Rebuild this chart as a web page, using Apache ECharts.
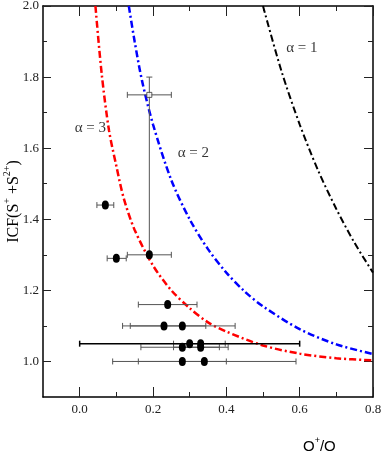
<!DOCTYPE html>
<html lang="en">
<head>
<meta charset="UTF-8">
<title>ICF(S+ + S2+)</title>
<script src="https://cdn.jsdelivr.net/npm/echarts@6/dist/echarts.min.js"></script>
<style>
  html, body { margin: 0; padding: 0; background: #fff; }
  #chart { width: 382px; height: 452px; }
</style>
</head>
<body>
<div id="chart"></div>
<script>
// curves (alpha = 3, 2, 1)
var curveA3 = [[0.043, 2.00], [0.06, 1.81], [0.08, 1.65], [0.10, 1.55], [0.12, 1.46], [0.15, 1.37],
               [0.20, 1.27], [0.25, 1.20], [0.30, 1.15], [0.35, 1.11], [0.40, 1.084], [0.50, 1.045],
               [0.60, 1.022], [0.70, 1.009], [0.80, 1.003]];
var curveA2 = [[0.134, 2.00], [0.15, 1.90], [0.17, 1.79], [0.20, 1.667], [0.25, 1.51], [0.30, 1.40],
               [0.35, 1.316], [0.40, 1.25], [0.45, 1.197], [0.50, 1.155], [0.60, 1.091], [0.70, 1.048],
               [0.80, 1.021]];
var curveA1 = [[0.50, 2.00], [0.55, 1.818], [0.60, 1.667], [0.65, 1.538], [0.70, 1.429], [0.75, 1.333],
               [0.80, 1.25]];

// data points: O+/O, ICF, and the ends of the horizontal error bar
var pointX  = [0.07, 0.10, 0.19, 0.24, 0.23, 0.28, 0.28, 0.33, 0.33, 0.28, 0.34];
var pointY  = [1.44, 1.29, 1.30, 1.16, 1.10, 1.10, 1.04, 1.05, 1.04, 1.00, 1.00];
var pointLo = [0.047, 0.075, 0.13, 0.16, 0.117, 0.138, 0.167, 0.256, 0.256, 0.16, 0.09];
var pointHi = [0.093, 0.127, 0.25, 0.32, 0.344, 0.424, 0.381, 0.397, 0.405, 0.40, 0.59];

// the point with the wide black bar
var widePoint = [0.30, 1.05, 0.00, 0.60];

// open square with both error bars: x, y, xlo, xhi, ylo, yhi
var openPoint = [0.19, 1.75, 0.13, 0.25, 1.30, 1.80];

var labelText = ['α = 3', 'α = 2', 'α = 1'];
var labelX = [0.029, 0.31, 0.606];
var labelY = [1.656, 1.585, 1.882];

var xMajor = [0.0, 0.2, 0.4, 0.6, 0.8];
var xMinor = [0.1, 0.3, 0.5, 0.7];
var yMajor = [1.0, 1.2, 1.4, 1.6, 1.8, 2.0];
var yMinor = [1.1, 1.3, 1.5, 1.7, 1.9];

var serif = '"Liberation Serif", "DejaVu Serif", serif';

var points = pointX.map(function (x, i) { return [x, pointY[i], pointLo[i], pointHi[i]]; });

function axis(dir, pos, ticks, len, withLine, withLabels) {
    var a = {
        type: 'value',
        position: pos,
        min: dir === 'x' ? -0.1 : 0.9,
        max: dir === 'x' ? 0.8 : 2.0,
        splitLine: { show: false },
        axisLine: { show: withLine, onZero: false, lineStyle: { color: '#000', width: 1.5 } },
        axisTick: { show: true, inside: true, length: len, customValues: ticks,
                    lineStyle: { color: '#222', width: 1 } },
        axisLabel: { show: false }
    };
    if (withLabels) {
        a.axisLabel = {
            show: true, customValues: ticks,
            formatter: function (v) { return v.toFixed(1); },
            fontFamily: serif, fontSize: 13, color: '#222',
            margin: dir === 'x' ? 6 : 4
        };
    }
    return a;
}

var yName = axis('y', 'left', yMajor, 8, true, true);
yName.name = '{m|ICF(S}{s|+}{m| +S}{s|2+}{m|)}';
yName.nameLocation = 'middle';
yName.nameGap = 21;
yName.nameMoveOverlap = false;
yName.nameRotate = 90;
yName.nameTextStyle = {
    rich: {
        m: { fontFamily: serif, fontSize: 16, color: '#000', lineHeight: 20, verticalAlign: 'bottom' },
        s: { fontFamily: serif, fontSize: 10, color: '#000', lineHeight: 20, verticalAlign: 'top' }
    }
};

function hBars(color, width) {
    return function (params, api) {
        var y = api.value(1);
        var a = api.coord([api.value(2), y]);
        var b = api.coord([api.value(3), y]);
        var st = { stroke: color, lineWidth: width };
        return { type: 'group', children: [
            { type: 'line', shape: { x1: a[0], y1: a[1], x2: b[0], y2: b[1] }, style: st },
            { type: 'line', shape: { x1: a[0], y1: a[1] - 3, x2: a[0], y2: a[1] + 3 }, style: st },
            { type: 'line', shape: { x1: b[0], y1: b[1] - 3, x2: b[0], y2: b[1] + 3 }, style: st }
        ] };
    };
}

function curve(data, color, width) {
    return {
        type: 'line', data: data, smooth: 0.3, symbol: 'none', silent: true, z: 3,
        lineStyle: { color: color, width: width, type: [7, 3, 2, 3], cap: 'butt' }
    };
}

var chart = echarts.init(document.getElementById('chart'), null, { renderer: 'canvas' });

chart.setOption({
    animation: false,
    backgroundColor: '#fff',
    grid: { left: 43, right: 9, top: 6, bottom: 55, containLabel: false, outerBoundsMode: 'none' },
    xAxis: [
        axis('x', 'bottom', xMajor, 10, true, true),
        axis('x', 'bottom', xMinor, 5, false, false),
        axis('x', 'top', xMajor, 10, true, false),
        axis('x', 'top', xMinor, 5, false, false)
    ],
    yAxis: [
        yName,
        axis('y', 'left', yMinor, 4, false, false),
        axis('y', 'right', yMajor, 9, true, false),
        axis('y', 'right', yMinor, 5, false, false)
    ],
    graphic: [{
        type: 'text', left: 303, top: 436,
        style: {
            text: '{o|O}{s|+}{o|/O}',
            rich: {
                o: { fontFamily: '"Liberation Sans", Arial, sans-serif', fontSize: 15, color: '#000', lineHeight: 18, verticalAlign: 'bottom' },
                s: { fontFamily: '"Liberation Sans", Arial, sans-serif', fontSize: 9, color: '#000', lineHeight: 18, verticalAlign: 'top' }
            }
        }
    }],
    series: [
        curve(curveA3, '#ff0000', 2.5),
        curve(curveA2, '#0000ff', 2.5),
        curve(curveA1, '#000000', 2),
        {
            type: 'custom', z: 4, data: points, renderItem: hBars('#555', 1),
            encode: { x: 0, y: 1 }
        },
        {
            type: 'custom', z: 4, data: [widePoint], renderItem: hBars('#000', 1.5),
            encode: { x: 0, y: 1 }
        },
        {
            type: 'custom', z: 4, data: [openPoint], encode: { x: 0, y: 1 },
            renderItem: function (params, api) {
                var x = api.value(0), y = api.value(1);
                var l = api.coord([api.value(2), y]);
                var r = api.coord([api.value(3), y]);
                var b = api.coord([x, api.value(4)]);
                var t = api.coord([x, api.value(5)]);
                var st = { stroke: '#555', lineWidth: 1 };
                return { type: 'group', children: [
                    { type: 'line', shape: { x1: l[0], y1: l[1], x2: r[0], y2: r[1] }, style: st },
                    { type: 'line', shape: { x1: l[0], y1: l[1] - 3, x2: l[0], y2: l[1] + 3 }, style: st },
                    { type: 'line', shape: { x1: r[0], y1: r[1] - 3, x2: r[0], y2: r[1] + 3 }, style: st },
                    { type: 'line', shape: { x1: b[0], y1: b[1], x2: t[0], y2: t[1] }, style: st },
                    { type: 'line', shape: { x1: t[0] - 3, y1: t[1], x2: t[0] + 3, y2: t[1] }, style: st }
                ] };
            }
        },
        {
            type: 'scatter', z: 5, data: points.map(function (p) { return [p[0], p[1]]; }).concat([[widePoint[0], widePoint[1]]]),
            symbol: 'circle', symbolSize: [7, 9], itemStyle: { color: '#000', opacity: 1 }
        },
        {
            type: 'scatter', z: 6, data: [[openPoint[0], openPoint[1]]],
            symbol: 'rect', symbolSize: 5, itemStyle: { color: '#fff', borderColor: '#333', borderWidth: 1 }
        },
        {
            type: 'scatter', z: 6, symbolSize: 0, silent: true,
            data: labelText.map(function (t, i) { return { name: t, value: [labelX[i], labelY[i]] }; }),
            label: { show: true, position: 'inside', formatter: '{b}', fontFamily: serif, fontSize: 15, color: '#000' }
        }
    ]
});
</script>
</body>
</html>
